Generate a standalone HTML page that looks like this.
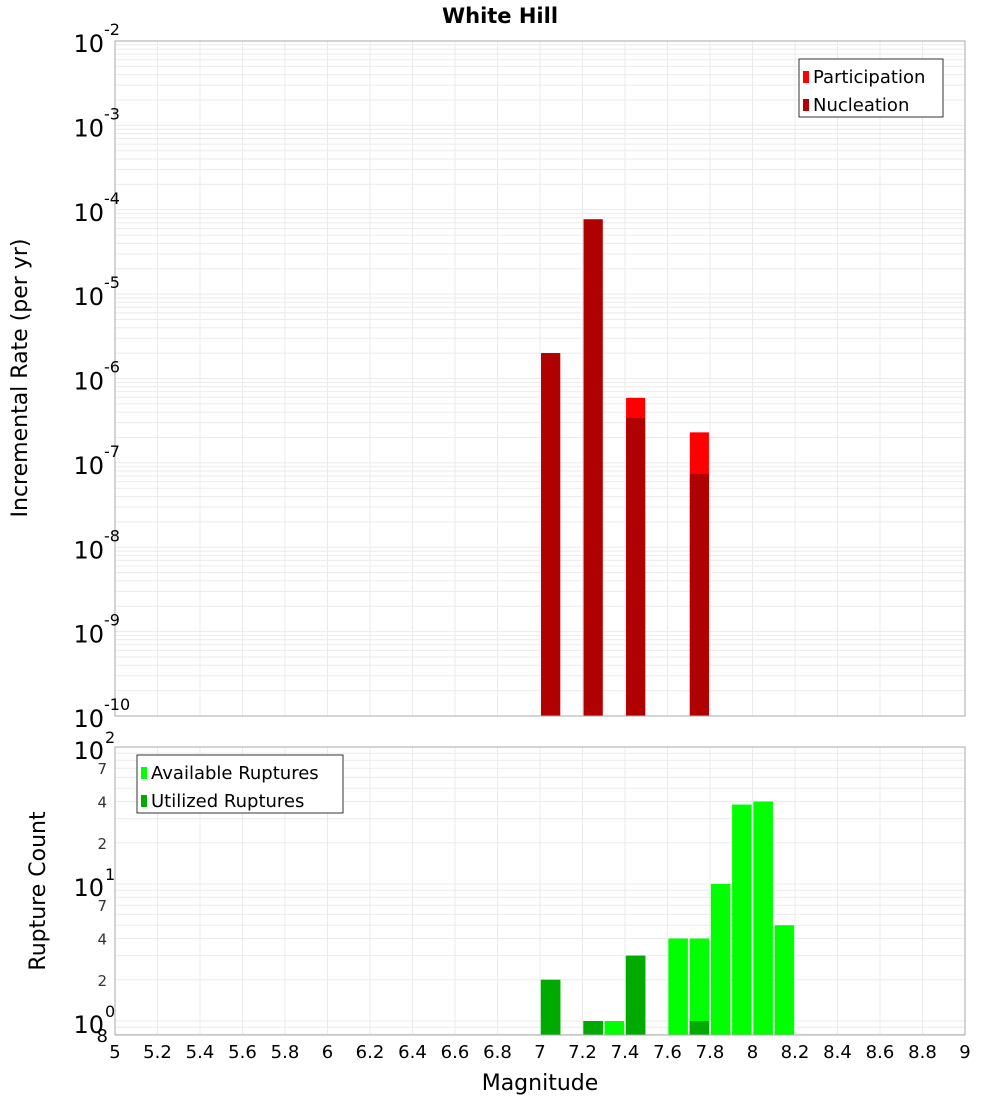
<!DOCTYPE html>
<html><head><meta charset="utf-8"><style>
body{margin:0;background:#fff;font-family:"Liberation Sans","DejaVu Sans",sans-serif}
svg text{font-family:"DejaVu Sans","Liberation Sans",sans-serif}
</style></head><body>
<svg id="c" width="1000" height="1100" xmlns="http://www.w3.org/2000/svg"></svg>
<script>
const mags = [7.05, 7.25, 7.45, 7.75];
const participation = [2e-6, 7.7e-5, 5.9e-7, 2.3e-7];
const nucleation = [2e-6, 7.7e-5, 3.4e-7, 7.4e-8];
const countMags = [7.05, 7.25, 7.35, 7.45, 7.65, 7.75, 7.85, 7.95, 8.05, 8.15];
const available = [2, 1, 1, 3, 4, 4, 10, 38, 40, 5];
const utilized = [2, 1, 0, 3, 0, 1, 0, 0, 0, 0];
const xTicks = [5,5.2,5.4,5.6,5.8,6,6.2,6.4,6.6,6.8,7,7.2,7.4,7.6,7.8,8,8.2,8.4,8.6,8.8,9];
const topExps = [-2,-3,-4,-5,-6,-7,-8,-9,-10];

const svg = document.getElementById('c');
const NS = 'http://www.w3.org/2000/svg';
function mk(tag, attrs, parent){const e=document.createElementNS(NS,tag);for(const k in attrs)e.setAttribute(k,attrs[k]);(parent||svg).appendChild(e);return e;}
const L=115,R=965;
const x=v=>L+(v-5)/4*(R-L);
const T1=41,B1=716;
const y1=v=>B1-(Math.log10(v)+10)/8*(B1-T1);
const T2=747,B2=1035;
const y2=v=>T2+(2-Math.log10(v))*137;

// top grid
let g=mk('g',{});


for(let e=-10;e<-2;e++)for(let m=1;m<10;m++){const yy=y1(m*Math.pow(10,e));mk('line',{x1:L,x2:R,y1:yy,y2:yy,stroke:'#ebebeb','stroke-width':1},g);}
xTicks.forEach(t=>{mk('line',{x1:x(t),x2:x(t),y1:T1,y2:B1,stroke:'#ebebeb'},g);});
// bottom grid
let g2=mk('g',{});


for(let e=-1;e<2;e++)for(let m=1;m<10;m++){const v=m*Math.pow(10,e);if(v<0.8)continue;const yy=y2(v);mk('line',{x1:L,x2:R,y1:yy,y2:yy,stroke:'#ebebeb'},g2);}
xTicks.forEach(t=>{mk('line',{x1:x(t),x2:x(t),y1:T2,y2:B2,stroke:'#ebebeb'},g2);});

// top bars
const bw=0.09*(R-L)/4;
mags.forEach((m,i)=>{
 const p=mk('rect',{x:x(m)-bw/2,y:y1(participation[i]),width:bw,height:B1-y1(participation[i]),fill:'#ff0000'});
 
 
 const n=mk('rect',{x:x(m)-bw/2,y:y1(nucleation[i]),width:bw,height:B1-y1(nucleation[i]),fill:'#b00000'});
 
 
});
// bottom bars
const bw2=0.092*(R-L)/4;
countMags.forEach((m,i)=>{
 if(available[i]>0){const a=mk('rect',{x:x(m)-bw2/2,y:y2(available[i]),width:bw2,height:B2-y2(available[i]),fill:'#00ff00'});
 
 }
 if(utilized[i]>0){const u=mk('rect',{x:x(m)-bw2/2,y:y2(utilized[i]),width:bw2,height:B2-y2(utilized[i]),fill:'#00aa00'});
 
 }
});

// frames
mk('rect',{x:L,y:T1,width:R-L,height:B1-T1,fill:'none',stroke:'#aaa'});
mk('rect',{x:L,y:T2,width:R-L,height:B2-T2,fill:'none',stroke:'#aaa'});

// top y ticks
topExps.forEach(e=>{
 const t=mk('text',{x:104,y:y1(Math.pow(10,e))+11,'text-anchor':'end','font-size':24,fill:'#000'});
 
 
 t.textContent='10';
 const s=mk('text',{x:104,y:y1(Math.pow(10,e))-6,'font-size':16,fill:'#000'});
 
 
 s.textContent=e;
});
// bottom y ticks
[[0,'10','0'],[1,'10','1'],[2,'10','2']].forEach(([e,b,s])=>{
 const yy=y2(Math.pow(10,e));
 const t=mk('text',{x:104,y:yy+12,'text-anchor':'end','font-size':24});
 
 
 t.textContent=b;
 const u=mk('text',{x:105,y:yy-4,'font-size':16});
 
 
 u.textContent=s;
});
[2,4,7,20,40,70].forEach(v=>{
 const t=mk('text',{x:107,y:y2(v)+6,'text-anchor':'end','font-size':15,fill:'#333'});
 
 
 t.textContent=String(v)[0];
});
const e8=mk('text',{x:108,y:1042,'text-anchor':'end','font-size':18});


e8.textContent='8';

// x ticks
xTicks.forEach(t=>{
 const tx=mk('text',{x:x(t),y:1058,'text-anchor':'middle','font-size':18});
 
 
 tx.textContent=String(t);
});

// titles
let tt=mk('text',{x:500,y:23,'text-anchor':'middle','font-size':21,'font-weight':'bold'});


tt.textContent='White Hill';
tt=mk('text',{x:540,y:1090,'text-anchor':'middle','font-size':22});


tt.textContent='Magnitude';
tt=mk('text',{x:0,y:0,'text-anchor':'middle','font-size':22,transform:'translate(27,378) rotate(-90)'});


tt.textContent='Incremental Rate (per yr)';
tt=mk('text',{x:0,y:0,'text-anchor':'middle','font-size':22,transform:'translate(45,891) rotate(-90)'});


tt.textContent='Rupture Count';

// legends
function legend(x0,y0,w,items,name){
 const lg=mk('g',{});
 
 
 mk('rect',{x:x0,y:y0,width:w,height:58,fill:'#fff',stroke:'#333'},lg);
 items.forEach(([c,l],i)=>{
  mk('rect',{x:x0+4,y:y0+12+i*28,width:6,height:12,fill:c},lg);
  const t=mk('text',{x:x0+14,y:y0+24+i*28,'font-size':18},lg);
  
  
  t.textContent=l;
 });
}
legend(799,59,144,[['#ff0000','Participation'],['#b00000','Nucleation']],'top-legend');
legend(137,755,206,[['#00ff00','Available Ruptures'],['#00aa00','Utilized Ruptures']],'bottom-legend');
</script>
</body></html>
